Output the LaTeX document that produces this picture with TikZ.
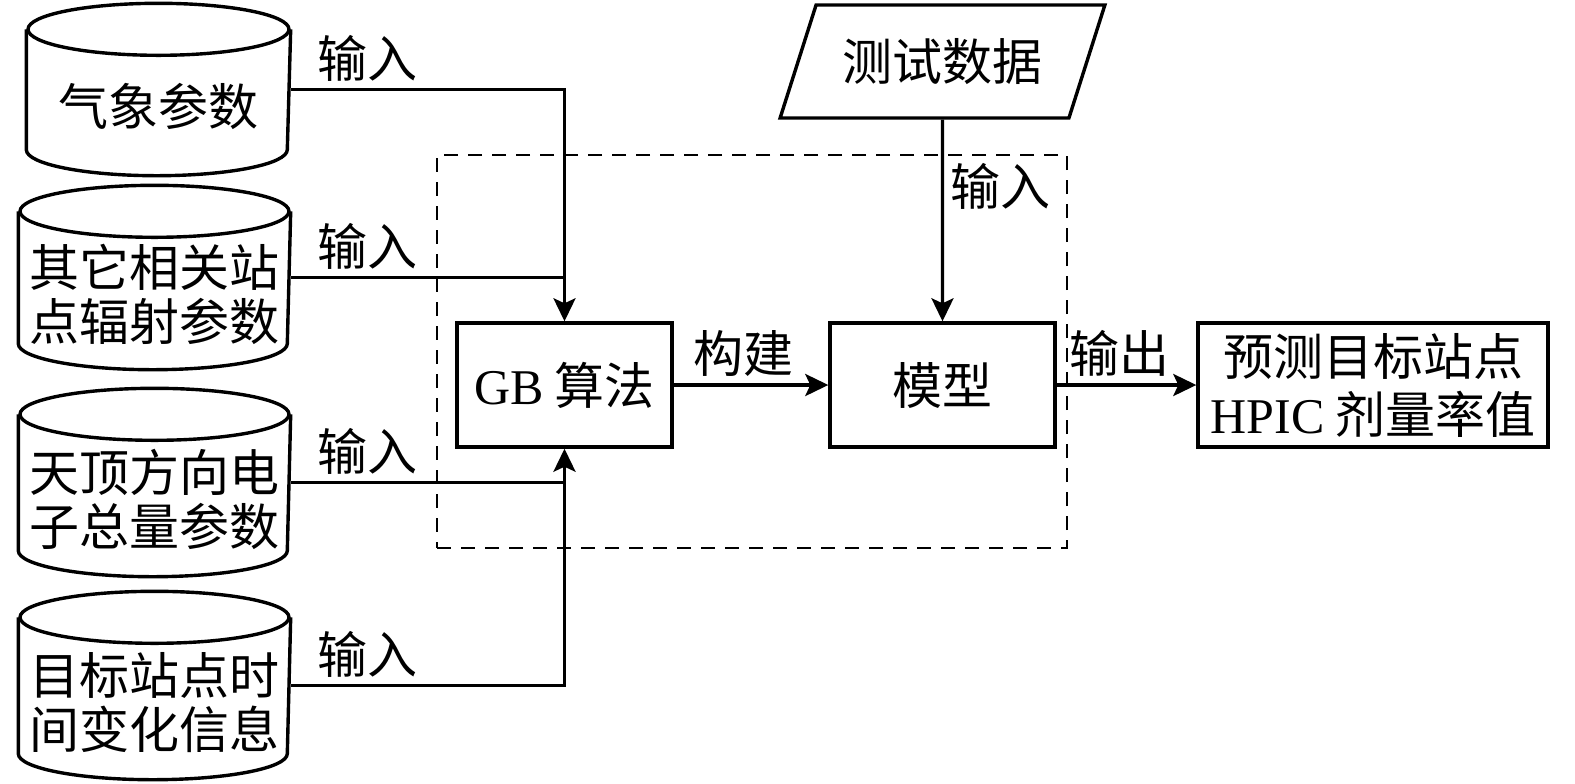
\documentclass[tikz,border=0pt]{standalone}
\usepackage{fontspec}
\setmainfont{Liberation Serif}
\newfontfamily\cjk{Noto Sans CJK SC}
\usetikzlibrary{positioning, arrows.meta, shapes.geometric}
\newcommand{\dbstrut}{\rule{0pt}{38pt}}

\begin{document}
\begin{tikzpicture}[
			x=0.5pt, y=-0.5pt,
			on grid,
			font=\fontsize{25}{27}\selectfont\cjk,
			line width=1.7pt,
			database/.style={
				rectangle,
				minimum width=134.5pt,
				minimum height=92.5pt,
				align=center,
				inner sep=0pt
			},
			block/.style={
				draw,
				rectangle,
				minimum height=62pt,
				align=center
			},
			dataio/.style={
				draw,
				trapezium,
				trapezium left angle=63,
				trapezium right angle=117,
				trapezium stretches=true,
				minimum width=162.5pt,
				minimum height=56.5pt
			},
			flow/.style={
				-{Stealth[length=11.5pt, width=11pt, inset=2.5pt]}
			},
			dashgroup/.style={
				draw,
				line width=1.1pt,
				dash pattern=on 7pt off 5pt
			}
			]
			\useasboundingbox (0,0) rectangle (1575,783);

			% Input data
			\node[database, minimum width=130.5pt, minimum height=84.5pt] (met) at (158.5,89.5) {\dbstrut 气象参数};
			\node[database, minimum height=90.5pt] (rad) [below=94pt of met, xshift=-2pt] {\dbstrut 其它相关站\\点辐射参数};
			\node[database] (tec) [below=102.5pt of rad] {\dbstrut 天顶方向电\\子总量参数};
			\node[database] (tim) [below=101.5pt of tec] {\dbstrut 目标站点时\\间变化信息};
			\foreach \n/\r in {met/65.25pt, rad/67.25pt, tec/67.25pt, tim/67.25pt}{
				\draw ([yshift=-13pt]\n.north) ellipse [x radius=\r, y radius=13pt];
				\draw ([yshift=-13pt]\n.north west) -- ([yshift=13pt]\n.south west)
					arc [start angle=180, end angle=360, x radius=\r, y radius=13pt]
					-- ([yshift=-13pt]\n.north east);
			}

			% Model
			\node[dashgroup, minimum width=315pt, minimum height=196.5pt] (grp) at (752,351.5) {};
			\node[block, minimum width=107.5pt] (gb) at (564.5,385) {{\rmfamily GB} 算法};
			\node[block, minimum width=112.5pt] (mdl) [right=189pt of gb] {模型};
			\node[dataio] (tst) [above=161.75pt of mdl] {测试数据};
			\node[block, minimum width=175pt, font=\fontsize{25}{29}\selectfont\cjk] (out) [right=215.25pt of mdl] {预测目标站点\\{\rmfamily HPIC} 剂量率值};

			% Connections
			\draw[flow] (met.east) -| node[pos=0.14, above] {输入} (gb.north);
			\draw (rad.east) -- node[pos=0.28, above] {输入} (rad.east -| gb.north);
			\draw (tec.east) -- node[pos=0.28, above] {输入} (tec.east -| gb.south);
			\draw[flow] (tim.east) -| node[pos=0.14, above] {输入} (gb.south);
			\draw[flow] (tst) -- node[pos=0.33, right] {输入} (mdl);
			\draw[flow] (gb) -- node[pos=0.45, above] {构建} (mdl);
			\draw[flow] (mdl) -- node[pos=0.45, above] {输出} (out);
\end{tikzpicture}
\end{document}
